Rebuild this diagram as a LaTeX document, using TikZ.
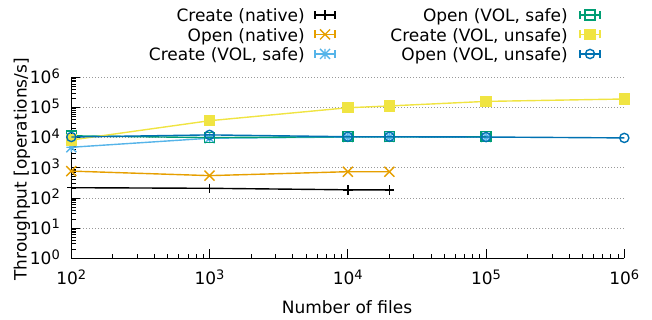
\documentclass[tikz,border=0pt]{standalone}
\usepackage{fontspec}
\setmainfont{DejaVu Sans}
\usetikzlibrary{plotmarks}
\definecolor{cblack}{HTML}{000000}
\definecolor{corange}{HTML}{E69F00}
\definecolor{clblue}{HTML}{56B4E9}
\definecolor{cgreen}{HTML}{009E73}
\definecolor{cyellow}{HTML}{F0E442}
\definecolor{cblue}{HTML}{0072B2}
\newcommand\gpsup[1]{\raisebox{5.5pt}{\fontsize{13}{13}\selectfont #1}}
\pgfdeclareplotmark{gpplus}{%
  \pgfpathmoveto{\pgfqpoint{0pt}{\pgfplotmarksize}}\pgfpathlineto{\pgfqpoint{0pt}{-\pgfplotmarksize}}%
  \pgfpathmoveto{\pgfqpoint{\pgfplotmarksize}{0pt}}\pgfpathlineto{\pgfqpoint{-\pgfplotmarksize}{0pt}}%
  \pgfusepathqstroke}
\pgfdeclareplotmark{gpx}{%
  \pgfpathmoveto{\pgfqpoint{\pgfplotmarksize}{\pgfplotmarksize}}\pgfpathlineto{\pgfqpoint{-\pgfplotmarksize}{-\pgfplotmarksize}}%
  \pgfpathmoveto{\pgfqpoint{\pgfplotmarksize}{-\pgfplotmarksize}}\pgfpathlineto{\pgfqpoint{-\pgfplotmarksize}{\pgfplotmarksize}}%
  \pgfusepathqstroke}
\pgfdeclareplotmark{gpstar}{%
  \pgfpathmoveto{\pgfqpoint{0pt}{\pgfplotmarksize}}\pgfpathlineto{\pgfqpoint{0pt}{-\pgfplotmarksize}}%
  \pgfpathmoveto{\pgfqpoint{\pgfplotmarksize}{0pt}}\pgfpathlineto{\pgfqpoint{-\pgfplotmarksize}{0pt}}%
  \pgfpathmoveto{\pgfqpoint{\pgfplotmarksize}{\pgfplotmarksize}}\pgfpathlineto{\pgfqpoint{-\pgfplotmarksize}{-\pgfplotmarksize}}%
  \pgfpathmoveto{\pgfqpoint{\pgfplotmarksize}{-\pgfplotmarksize}}\pgfpathlineto{\pgfqpoint{-\pgfplotmarksize}{\pgfplotmarksize}}%
  \pgfusepathqstroke}
\tikzset{
  txt/.style={font=\fontsize{17}{20}\selectfont, inner sep=0pt},
  axisline/.style={line width=1.2pt, black},
  tickline/.style={line width=0.9pt, black},
  gridline/.style={line width=0.8pt, gray!80, dash pattern=on 0.8pt off 2.2pt},
  series/.style={line width=1.4pt, mark options={solid, line width=1.4pt}},
  capline/.style={line width=1.4pt},
}
\begin{document}
\begin{tikzpicture}[x=1pt,y=1pt]
\useasboundingbox (0,0) rectangle (652,320);
\begin{scope}[shift={(71.3,61.7)}, x=138.25pt, y=30.17pt]
  % grid
  \foreach \i in {1,...,6} \draw[gridline] (0,\i) -- (4,\i);
  % minor ticks
  \foreach \d in {0,...,3} \foreach \k in {2,...,9}
    \draw[tickline] ({\d+log10(\k)},0) -- ++(0,4.5pt);
  \foreach \d in {0,...,5} \foreach \k in {2,...,9}
    \draw[tickline] (0,{\d+log10(\k)}) -- ++(4.5pt,0);
  % major ticks
  \foreach \d in {0,...,4} \draw[tickline] (\d,0) -- ++(0,9pt);
  \foreach \d in {0,...,6} \draw[tickline] (0,\d) -- ++(9pt,0);
  % axes
  \draw[axisline] (0,6) -- (0,0) -- (4,0);
  % tick labels
  \foreach \d [evaluate=\d as \e using int(\d+2)] in {0,...,4}
    \node[txt, anchor=base, yshift=-26.7pt] (xt\d) at (\d,0) {10\gpsup{\e}};
  \foreach \d in {0,...,6}
    \node[txt, anchor=base east, xshift=-11.3pt, yshift=-6.3pt] (yt\d) at (0,\d) {10\gpsup{\d}};
  % series
  \draw[series, cblack, mark=gpplus, mark size=4.7pt] plot coordinates {(0,2.34) (1,2.32) (2,2.27) (2.301,2.27)};
  \draw[series, corange, mark=gpx, mark size=5pt] plot coordinates {(0,2.89) (1,2.74) (2,2.87) (2.301,2.87)};
  \draw[series, clblue, mark=gpstar, mark size=5pt] plot coordinates {(0,3.68) (1,3.98) (2,4.02) (2.301,4.02) (3,4.02)};
  \draw[series, cgreen, mark=square, mark size=5pt] plot coordinates {(0,4.06) (1,4.0) (2,4.03) (2.301,4.03) (3,4.03)};
  \draw[series, cyellow, mark=square*, mark size=5pt] plot coordinates {(0,3.92) (1,4.56) (2,4.99) (2.301,5.05) (3,5.20) (4,5.28)};
  \draw[series, cblue, mark=o, mark size=4.6pt] plot coordinates {(0,4.02) (1,4.09) (2,4.03) (2.301,4.03) (3,4.02) (4,3.99)};
\end{scope}
% axis titles
\node[txt, anchor=base] (xlabel) at (347,6) {Number of files};
\node[txt, anchor=base west, rotate=90] (ylabel) at (26.5,39.3) {Throughput [operations/s]};
% legend
\node[txt, anchor=base east] (l1) at (305,298.3) {Create (native)};
\node[txt, anchor=base east] (l2) at (305,278.8) {Open (native)};
\node[txt, anchor=base east] (l3) at (305,259.3) {Create (VOL, safe)};
\node[txt, anchor=base east] (l4) at (568,298.3) {Open (VOL, safe)};
\node[txt, anchor=base east] (l5) at (568,278.8) {Create (VOL, unsafe)};
\node[txt, anchor=base east] (l6) at (568,259.3) {Open (VOL, unsafe)};
\foreach \c/\m/\s/\x/\y in {cblack/gpplus/4.7pt/325/305, corange/gpx/5pt/325/285.5, clblue/gpstar/5pt/325/266,
                            cgreen/square/5pt/590/305, cyellow/square*/5pt/590/285.5, cblue/o/4.6pt/590/266} {
  \draw[capline, \c] (\x-10,\y) -- (\x+10,\y) (\x-10,\y-4) -- (\x-10,\y+4) (\x+10,\y-4) -- (\x+10,\y+4);
  \draw[series, \c, mark=\m, mark size=\s] plot coordinates {(\x,\y)};
}
\end{tikzpicture}
\end{document}
